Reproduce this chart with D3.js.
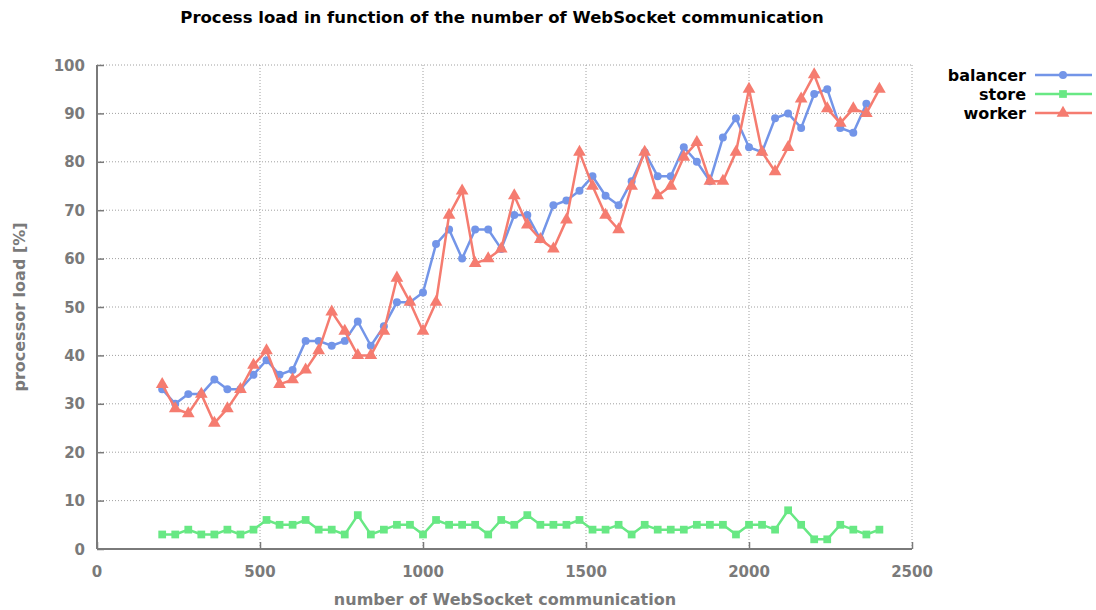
<!DOCTYPE html>
<html><head><meta charset="utf-8">
<script src="https://cdn.jsdelivr.net/npm/d3@7"></script>
<style>body{margin:0;background:#fff}svg{display:block}</style>
</head><body><svg id="c" width="1096" height="610"></svg>
<script>
const xStart = 200, xStep = 40;
const balancer = [33,30,32,32,35,33,33,36,39,36,37,43,43,42,43,47,42,46,51,51,53,63,66,60,66,66,62,69,69,64,71,72,74,77,73,71,76,82,77,77,83,80,76,85,89,83,82,89,90,87,94,95,87,86,92];
const store = [3,3,4,3,3,4,3,4,6,5,5,6,4,4,3,7,3,4,5,5,3,6,5,5,5,3,6,5,7,5,5,5,6,4,4,5,3,5,4,4,4,5,5,5,3,5,5,4,8,5,2,2,5,4,3,4];
const worker = [34,29,28,32,26,29,33,38,41,34,35,37,41,49,45,40,40,45,56,51,45,51,69,74,59,60,62,73,67,64,62,68,82,75,69,66,75,82,73,75,81,84,76,76,82,95,82,78,83,93,98,91,88,91,90,95];
const xTicks = [0,500,1000,1500,2000,2500];
const yTicks = [0,10,20,30,40,50,60,70,80,90,100];
const seriesNames = ["balancer","store","worker"];

const svg = d3.select("#c");
const L=97,R=912,T=65,B=549;
const x = d3.scaleLinear().domain([0,2500]).range([L,R]);
const y = d3.scaleLinear().domain([0,100]).range([B,T]);
const gray="#7a7a7a";
const tickFont='bold 15px "DejaVu Sans"';
const titleFont='bold 16px "DejaVu Sans"';

// grid
const g = svg.append("g");
yTicks.filter(v=>v>0).forEach(v=>{
  g.append("line").attr("x1",L).attr("x2",R).attr("y1",y(v)).attr("y2",y(v))
   .attr("stroke","#a0a0a0").attr("stroke-width",1).attr("stroke-dasharray","1,2");
});
xTicks.filter(v=>v>0).forEach(v=>{
  g.append("line").attr("x1",x(v)).attr("x2",x(v)).attr("y1",T).attr("y2",B)
   .attr("stroke","#a0a0a0").attr("stroke-width",1).attr("stroke-dasharray","1,2");
});

// axes
const ax = svg.append("g").attr("transform",`translate(0,${B})`)
  .call(d3.axisTop(x).tickValues(xTicks).tickSize(7).tickFormat(""));
ax.select(".domain").remove();
ax.selectAll("line").attr("stroke",gray).attr("stroke-width",1.5);
const ay = svg.append("g").attr("transform",`translate(${L},0)`)
  .call(d3.axisRight(y).tickValues(yTicks).tickSize(7).tickFormat(""));
ay.select(".domain").remove();
ay.selectAll("line").attr("stroke",gray).attr("stroke-width",1.5);
svg.append("line").attr("x1",L).attr("x2",R).attr("y1",B).attr("y2",B).attr("stroke",gray).attr("stroke-width",2);
svg.append("line").attr("x1",L).attr("x2",L).attr("y1",T).attr("y2",B).attr("stroke",gray).attr("stroke-width",2);

// tick labels
xTicks.forEach(v=>{
  svg.append("text").attr("x",x(v)).attr("y",577).attr("text-anchor","middle")
   .attr("fill",gray).style("font",tickFont).text(v);
});
yTicks.forEach(v=>{
  svg.append("text").attr("x",85).attr("y",y(v)+5.5).attr("text-anchor","end")
   .attr("fill",gray).style("font",tickFont).text(v);
});

// axis titles
svg.append("text").attr("x",505).attr("y",605).attr("text-anchor","middle")
  .attr("fill",gray).style("font",titleFont).text("number of WebSocket communication");
svg.append("text").attr("transform","translate(25,307) rotate(-90)").attr("text-anchor","middle")
  .attr("fill",gray).style("font",titleFont).text("processor load [%]");
// title
svg.append("text").attr("x",502).attr("y",23).attr("text-anchor","middle")
  .attr("fill","#000").style("font",'bold 16.5px "DejaVu Sans"')
  .text("Process load in function of the number of WebSocket communication");

const colors = {balancer:"#7395e8",store:"#68e884",worker:"#f57c70"};
const data = {balancer,store,worker};
const sym = {balancer:d3.symbolCircle,store:d3.symbolSquare,worker:d3.symbolTriangle};
const size = {balancer:50,store:60,worker:70};
const line = d3.line().x(d=>x(d[0])).y(d=>y(d[1]));

["balancer","worker","store"].forEach(name=>{
  const pts = data[name].map((v,i)=>[xStart+i*xStep,v]);
  const s = svg.append("g");
  s.append("path").datum(pts).attr("d",line).attr("fill","none")
   .attr("stroke",colors[name]).attr("stroke-width",2.5).attr("stroke-linejoin","round");
  s.selectAll("path.m").data(pts).enter().append("path").attr("class","m")
   .attr("transform",d=>`translate(${x(d[0])},${y(d[1])})`)
   .attr("d",d3.symbol().type(sym[name]).size(size[name])).attr("fill",colors[name]);
});

// legend
seriesNames.forEach((name,i)=>{
  const yy = 75 + i*19;
  svg.append("text").attr("x",1026).attr("y",yy+6).attr("text-anchor","end")
   .attr("fill","#000").style("font",'bold 16px "DejaVu Sans"').text(name);
  svg.append("line").attr("x1",1035).attr("x2",1092).attr("y1",yy).attr("y2",yy)
   .attr("stroke",colors[name]).attr("stroke-width",2.5);
  svg.append("path").attr("transform",`translate(1063,${yy})`)
   .attr("d",d3.symbol().type(sym[name]).size(size[name])).attr("fill",colors[name]);
});
</script></body></html>
